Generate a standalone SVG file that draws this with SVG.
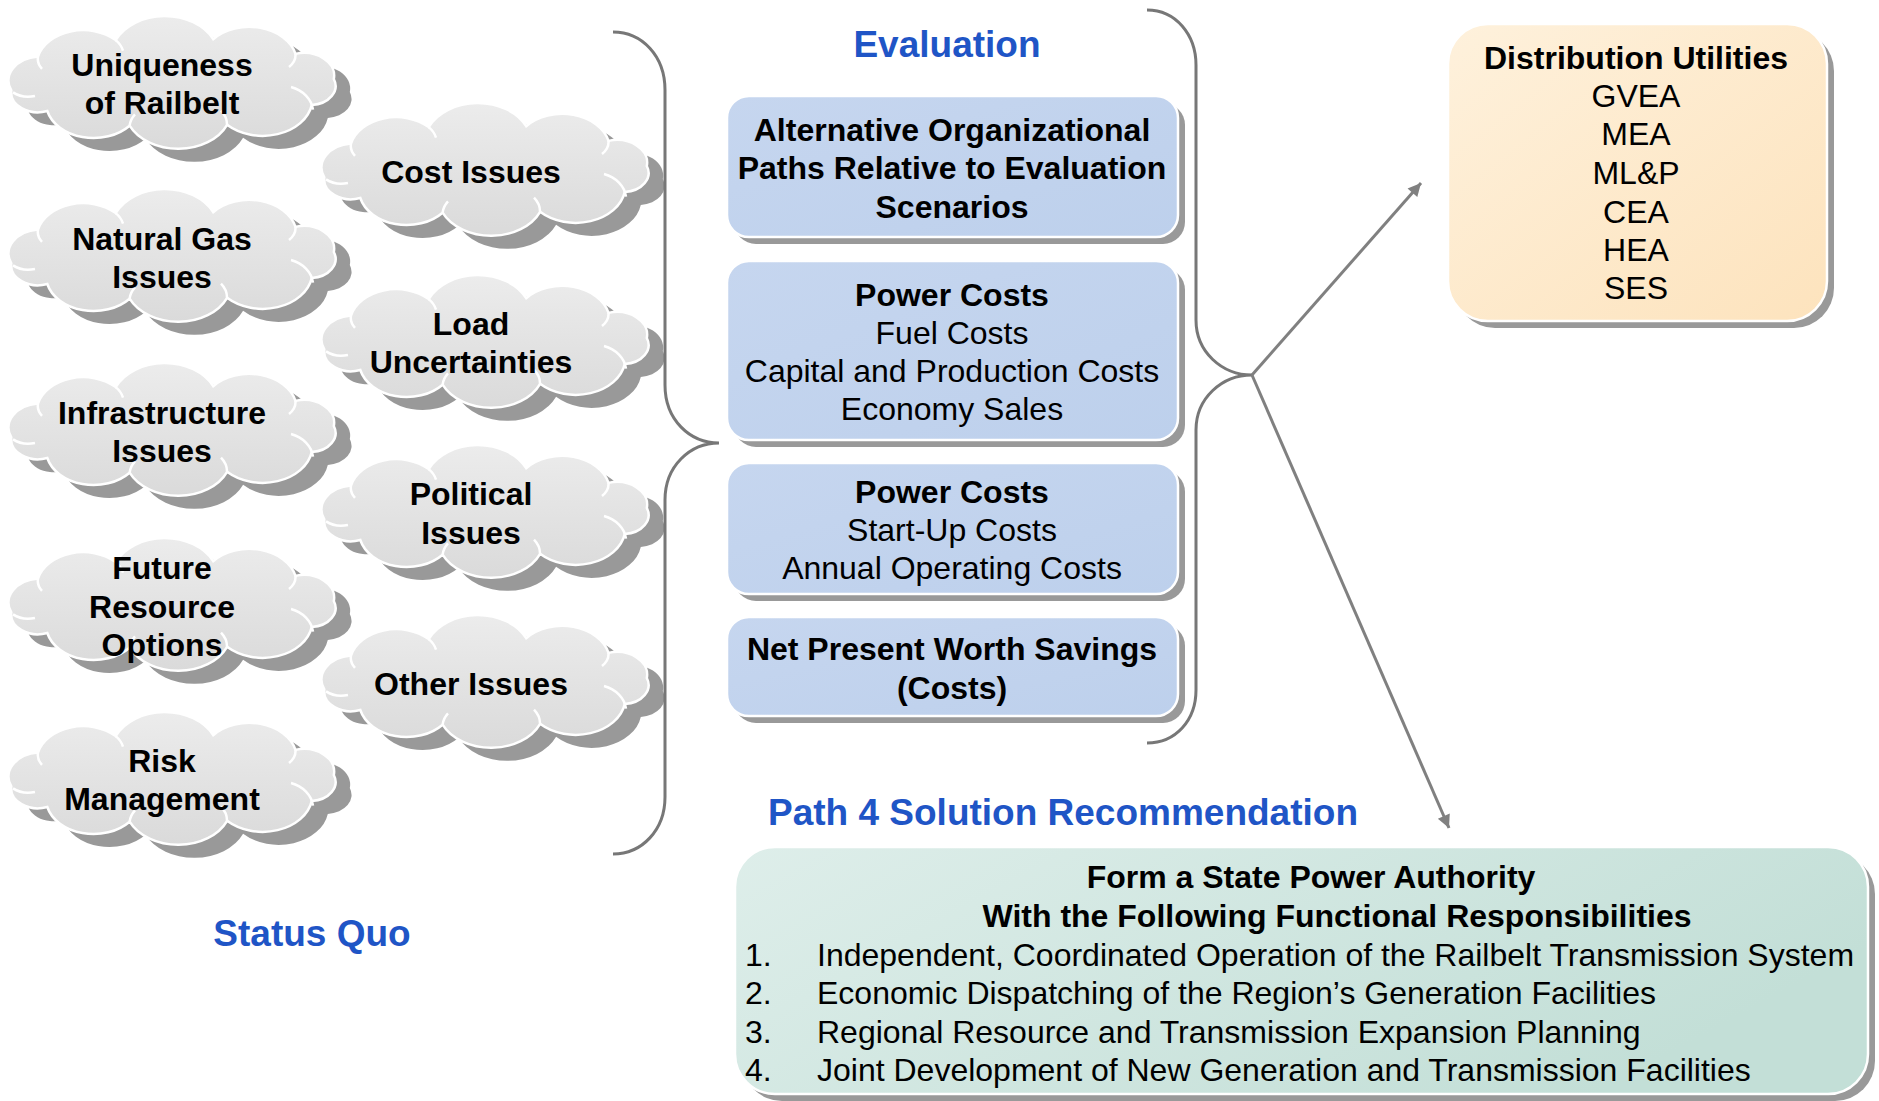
<svg xmlns="http://www.w3.org/2000/svg" xmlns:xlink="http://www.w3.org/1999/xlink" width="1879" height="1101" viewBox="0 0 1879 1101">
<defs>
<style>
.t{font-family:"Liberation Sans",Arial,Helvetica,sans-serif;font-size:32px;text-anchor:middle;fill:#000}
.b{font-weight:bold}
.l{text-anchor:start}
.title{font-family:"Liberation Sans",Arial,Helvetica,sans-serif;font-size:37px;font-weight:bold;fill:#1f55c6;text-anchor:middle}
.cloud{fill:url(#gCloud);stroke:#fff;stroke-width:2.5}
.cshadow{fill:#999}
.inner{fill:none;stroke:#fff;stroke-width:2.5}
.shadow{fill:#999}
.blue{fill:url(#gBlue);stroke:#fff;stroke-width:2.5}
.brace{fill:none;stroke:#777;stroke-width:3}
.arrow{fill:none;stroke:#808080;stroke-width:3;marker-end:url(#ah)}
</style>
<linearGradient id="gCloud" x1="0" y1="0" x2="0" y2="1">
<stop offset="0" stop-color="#ececec"/><stop offset="1" stop-color="#dadada"/>
</linearGradient>
<linearGradient id="gBlue" x1="0" y1="0" x2="1" y2="1">
<stop offset="0" stop-color="#c6d6ef"/><stop offset="1" stop-color="#bdd0ec"/>
</linearGradient>
<linearGradient id="gOrange" x1="0" y1="0" x2="1" y2="1">
<stop offset="0" stop-color="#fef1dc"/><stop offset="1" stop-color="#fde3bd"/>
</linearGradient>
<linearGradient id="gGreen" x1="0" y1="0" x2="1" y2="0.4">
<stop offset="0" stop-color="#deeeea"/><stop offset="1" stop-color="#c3dfd7"/>
</linearGradient>
<path id="cs" d="M2.3,74.3 A32.5,24.2 0 0 1 29,40.5 A46.4,34.6 0 0 1 106.7,24.1 A53.4,39.8 0 0 1 204.2,23.2 A47.6,35.5 0 0 1 286.5,37.9 A30.2,22.5 0 0 1 324.8,63 A25.5,19 0 0 1 302.8,88.9 A49.9,37.2 0 0 1 218.1,108.8 A53.4,39.8 0 0 1 120.6,109.7 A47.6,35.5 0 0 1 38.3,95 A26.7,19.9 0 0 1 2.3,74.3 Z"/>
<path id="ci" d="M4,76.4 A22,14.6 0 0 0 26,80 M29,40.5 A25,18 0 0 0 33,52.8 M106.7,24.1 A30,23 0 0 1 114,34.6 M286.5,37.9 A25,18 0 0 1 280,51 M282,71 A32,27 0 0 1 304,93.7 M218,108.8 A30,23 0 0 0 212,94.6 M120.6,109.7 A30,23 0 0 1 126,98.3"/>
<g id="cloud">
<use xlink:href="#cs" href="#cs" class="cshadow" transform="translate(16,13)"/>
<use xlink:href="#cs" href="#cs" class="cloud"/>
<use xlink:href="#ci" href="#ci" class="inner"/>
</g>
<marker id="ah" viewBox="0 0 10 10" refX="10" refY="5" markerUnits="userSpaceOnUse" markerWidth="22" markerHeight="13" orient="auto">
<path d="M0,0 L10,5 L0,10 Z" fill="#808080"/>
</marker>
</defs>
<rect width="1879" height="1101" fill="#fff"/>

<g id="cloud-uniqueness">
<use xlink:href="#cloud" href="#cloud" transform="translate(9,16)"/>
<text class="t b" x="162" y="76">Uniqueness</text>
<text class="t b" x="162" y="114">of Railbelt</text>
</g>
<g id="cloud-natural-gas">
<use xlink:href="#cloud" href="#cloud" transform="translate(9,189)"/>
<text class="t b" x="162" y="250">Natural Gas</text>
<text class="t b" x="162" y="288">Issues</text>
</g>
<g id="cloud-infrastructure">
<use xlink:href="#cloud" href="#cloud" transform="translate(9,363)"/>
<text class="t b" x="162" y="424">Infrastructure</text>
<text class="t b" x="162" y="462">Issues</text>
</g>
<g id="cloud-future">
<use xlink:href="#cloud" href="#cloud" transform="translate(9,538)"/>
<text class="t b" x="162" y="579">Future</text>
<text class="t b" x="162" y="618">Resource</text>
<text class="t b" x="162" y="656">Options</text>
</g>
<g id="cloud-risk">
<use xlink:href="#cloud" href="#cloud" transform="translate(9,712)"/>
<text class="t b" x="162" y="772">Risk</text>
<text class="t b" x="162" y="810">Management</text>
</g>
<g id="cloud-cost">
<use xlink:href="#cloud" href="#cloud" transform="translate(322,103)"/>
<text class="t b" x="471" y="183">Cost Issues</text>
</g>
<g id="cloud-load">
<use xlink:href="#cloud" href="#cloud" transform="translate(322,275)"/>
<text class="t b" x="471" y="335">Load</text>
<text class="t b" x="471" y="373">Uncertainties</text>
</g>
<g id="cloud-political">
<use xlink:href="#cloud" href="#cloud" transform="translate(322,445)"/>
<text class="t b" x="471" y="505">Political</text>
<text class="t b" x="471" y="544">Issues</text>
</g>
<g id="cloud-other">
<use xlink:href="#cloud" href="#cloud" transform="translate(322,615)"/>
<text class="t b" x="471" y="695">Other Issues</text>
</g>

<g id="label-status-quo"><text class="title" x="312" y="946">Status Quo</text></g>
<g id="label-evaluation"><text class="title" x="947" y="57">Evaluation</text></g>
<g id="label-path4"><text class="title" x="1063" y="825">Path 4 Solution Recommendation</text></g>

<g id="box-alternative">
<rect class="shadow" x="734" y="103" width="451" height="141" rx="22"/>
<rect class="blue" x="727" y="96" width="451" height="141" rx="22"/>
<text class="t b" x="952" y="141">Alternative Organizational</text>
<text class="t b" x="952" y="179">Paths Relative to Evaluation</text>
<text class="t b" x="952" y="218">Scenarios</text>
</g>
<g id="box-power-costs-1">
<rect class="shadow" x="734" y="268" width="451" height="179" rx="22"/>
<rect class="blue" x="727" y="261" width="451" height="179" rx="22"/>
<text class="t b" x="952" y="306">Power Costs</text>
<text class="t" x="952" y="344">Fuel Costs</text>
<text class="t" x="952" y="382">Capital and Production Costs</text>
<text class="t" x="952" y="420">Economy Sales</text>
</g>
<g id="box-power-costs-2">
<rect class="shadow" x="734" y="470" width="451" height="131" rx="22"/>
<rect class="blue" x="727" y="463" width="451" height="131" rx="22"/>
<text class="t b" x="952" y="503">Power Costs</text>
<text class="t" x="952" y="541">Start-Up Costs</text>
<text class="t" x="952" y="579">Annual Operating Costs</text>
</g>
<g id="box-npw">
<rect class="shadow" x="734" y="624" width="451" height="99" rx="22"/>
<rect class="blue" x="727" y="617" width="451" height="99" rx="22"/>
<text class="t b" x="952" y="660">Net Present Worth Savings</text>
<text class="t b" x="952" y="699">(Costs)</text>
</g>

<g id="box-distribution">
<rect class="shadow" x="1455" y="31" width="379" height="297" rx="40"/>
<rect x="1448" y="24" width="379" height="297" rx="40" fill="url(#gOrange)" stroke="#fff" stroke-width="2.5"/>
<text class="t b" x="1636" y="69">Distribution Utilities</text>
<text class="t" x="1636" y="107">GVEA</text>
<text class="t" x="1636" y="145">MEA</text>
<text class="t" x="1636" y="184">ML&amp;P</text>
<text class="t" x="1636" y="223">CEA</text>
<text class="t" x="1636" y="261">HEA</text>
<text class="t" x="1636" y="299">SES</text>
</g>

<g id="box-recommendation">
<rect class="shadow" x="742" y="854" width="1133" height="247" rx="40"/>
<rect x="735" y="847" width="1133" height="247" rx="40" fill="url(#gGreen)" stroke="#fff" stroke-width="2.5"/>
<text class="t b" x="1311" y="888">Form a State Power Authority</text>
<text class="t b" x="1337" y="927">With the Following Functional Responsibilities</text>
<text class="t l" x="745" y="966">1.</text>
<text class="t l" x="817" y="966">Independent, Coordinated Operation of the Railbelt Transmission System</text>
<text class="t l" x="745" y="1004">2.</text>
<text class="t l" x="817" y="1004">Economic Dispatching of the Region’s Generation Facilities</text>
<text class="t l" x="745" y="1043">3.</text>
<text class="t l" x="817" y="1043">Regional Resource and Transmission Expansion Planning</text>
<text class="t l" x="745" y="1081">4.</text>
<text class="t l" x="817" y="1081">Joint Development of New Generation and Transmission Facilities</text>
</g>

<g id="connectors">
<path class="brace" d="M613,32 C642,32 665,56 665,90 L665,385 C665,420 690,443 719,443 C690,443 665,466 665,500 L665,797 C665,830 642,854 613,854"/>
<path class="brace" d="M1147,10 C1176,10 1196,35 1196,65 L1196,320 C1196,352 1222,375 1252,375 C1222,375 1196,398 1196,430 L1196,690 C1196,720 1176,743 1147,743"/>
<line class="arrow" x1="1252" y1="375" x2="1421" y2="183"/>
<line class="arrow" x1="1252" y1="375" x2="1449" y2="828"/>
</g>
</svg>
